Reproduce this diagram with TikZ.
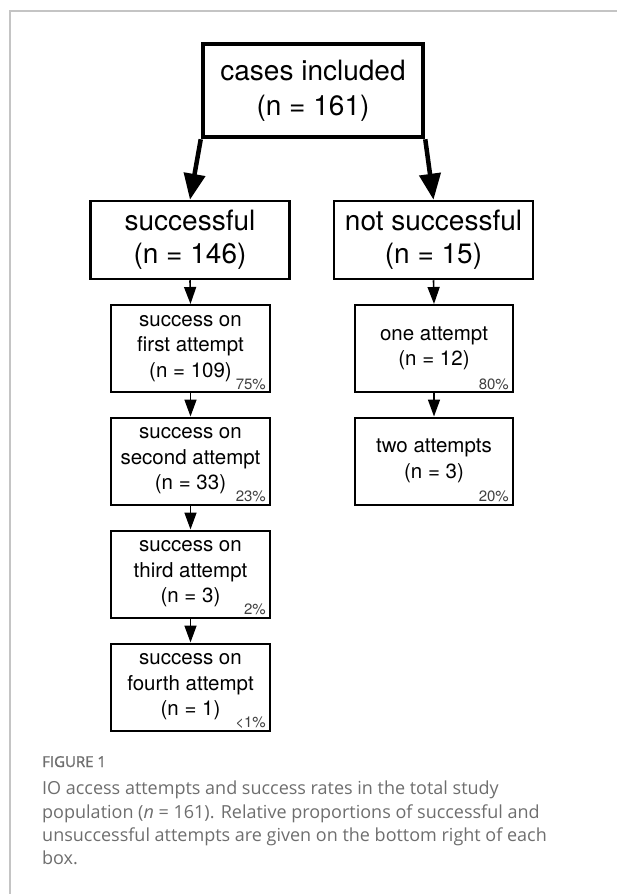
\documentclass[tikz,border=0pt]{standalone}
\usepackage{fontspec}
\setmainfont{TeX Gyre Heros}
\newfontfamily\capfont{Open Sans}
\newfontfamily\capfontsb[FakeBold=1.3]{Open Sans}
\usetikzlibrary{arrows.meta}
\definecolor{framegray}{HTML}{C4C4C4}
\definecolor{capgray}{HTML}{6E6E6E}
\definecolor{pctgray}{HTML}{404040}
\begin{document}
\begin{tikzpicture}[x=1pt,y=-1pt,
  bigbox/.style={draw, line width=4.5pt, minimum width=220pt, minimum height=93pt, inner sep=0pt, align=center, font=\fontsize{28}{35}\selectfont},
  midbox/.style={draw, line width=2.5pt, minimum width=199pt, minimum height=78pt, inner sep=0pt, align=center, font=\fontsize{28}{33}\selectfont},
  smallbox/.style={draw, line width=2pt, minimum width=159pt, minimum height=87pt, inner sep=0pt, align=center, font=\fontsize{20.5}{25.5}\selectfont},
  pct/.style={anchor=base east, inner sep=0pt, font=\fontsize{15}{15}\selectfont, text=pctgray},
  bigarrow/.style={line width=4.5pt, -{Triangle[length=26pt,width=21pt]}},
  smallarrow/.style={line width=1.6pt, -{Triangle[length=17pt,width=12pt]}},
  framerule/.style={line width=1.5pt, draw=framegray}
]
\useasboundingbox (0,0) rectangle (617,894);
% frame
\coordinate (fTL) at (10,11);
\coordinate (fTR) at (617,11);
\coordinate (fBL) at (10,894);
\draw[framerule] (fTR) -- (fTL) -- (fBL);

% boxes
\node[bigbox] (top) at (313,90.5) {cases included\\(n = 161)};
\node[midbox] (succ) at (190,240) {successful\\(n = 146)};
\node[midbox] (nsucc) at (433.5,240) {not successful\\(n = 15)};

\node[smallbox] (s1) at (190.5,348.5) {success on\\first attempt\\(n = 109)};
\node[smallbox] (s2) at (190.5,461) {success on\\second attempt\\(n = 33)};
\node[smallbox] (s3) at (190.5,574) {success on\\third attempt\\(n = 3)};
\node[smallbox] (s4) at (190.5,687) {success on\\fourth attempt\\(n = 1)};

\node[smallbox, minimum width=158pt] (n1) at (434,348.5) {one attempt\\(n = 12)};
\node[smallbox, minimum width=158pt] (n2) at (434,461) {two attempts\\(n = 3)};

% percentages
\node[pct] (p1) at ([xshift=-5pt,yshift=4pt]s1.south east) {75\%};
\node[pct] (p2) at ([xshift=-5pt,yshift=4pt]s2.south east) {23\%};
\node[pct] (p3) at ([xshift=-5pt,yshift=4pt]s3.south east) {2\%};
\node[pct] (p4) at ([xshift=-5pt,yshift=4pt]s4.south east) {<1\%};
\node[pct] (q1) at ([xshift=-5pt,yshift=4pt]n1.south east) {80\%};
\node[pct] (q2) at ([xshift=-5pt,yshift=4pt]n2.south east) {20\%};

% arrows
\draw[bigarrow] (top.south west) -- (succ.north);
\draw[bigarrow] (top.south east) -- (nsucc.north);
\draw[smallarrow] (succ.south) -- (s1.north);
\draw[smallarrow] (s1.south) -- (s2.north);
\draw[smallarrow] (s2.south) -- (s3.north);
\draw[smallarrow] (s3.south) -- (s4.north);
\draw[smallarrow] (nsucc.south) -- (n1.north);
\draw[smallarrow] (n1.south) -- (n2.north);

% caption
\node[anchor=base west, inner sep=0pt, font=\capfontsb\fontsize{15}{15}\selectfont, text=capgray] (figlabel) at (42,767) {FIGURE 1};
\node[anchor=north west, inner sep=0pt, align=left, font=\capfont\fontsize{18}{23.3}\selectfont, text=capgray] (caption) at (42,781) {IO access attempts and success rates in the total study\\population (\textit{n} = 161). Relative proportions of successful and\\unsuccessful attempts are given on the bottom right of each\\box.};
\end{tikzpicture}
\end{document}
